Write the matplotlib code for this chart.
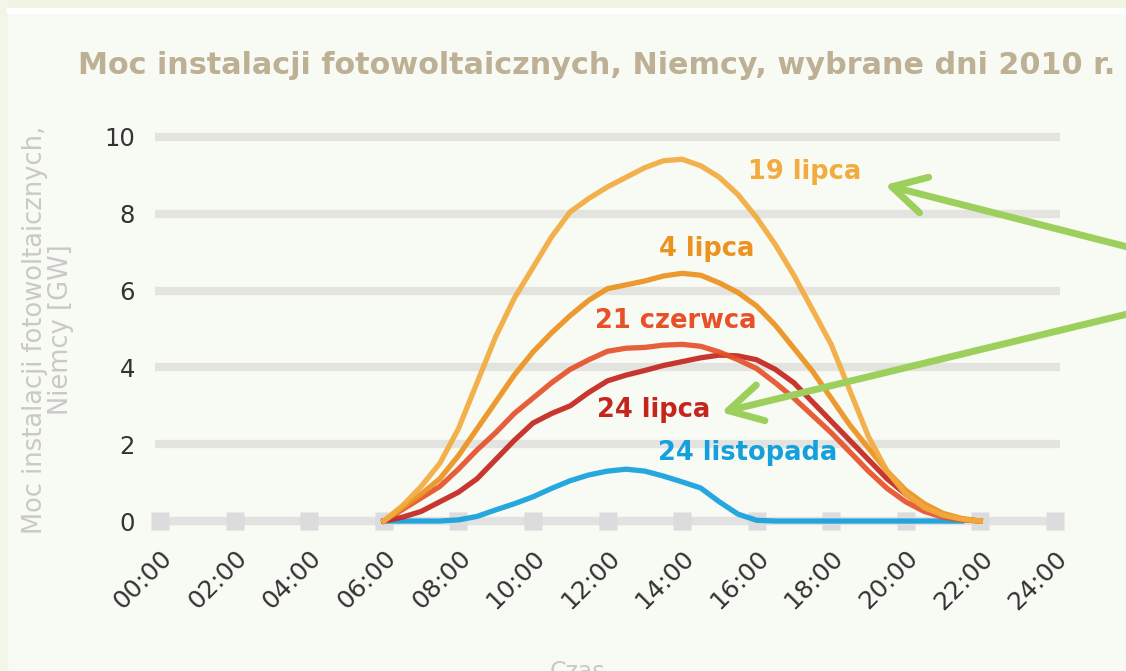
import numpy as np
import matplotlib
matplotlib.use("Agg")
from matplotlib import pyplot as plt
from matplotlib.patches import Rectangle

# data (hour of day -> GW)
h_19_lipca = [6.0, 6.5, 7.0, 7.5, 8.0, 8.5, 9.0, 9.5, 10.0, 10.5, 11.0, 11.5, 12.0, 12.5, 13.0, 13.5,
              14.0, 14.5, 15.0, 15.5, 16.0, 16.5, 17.0, 17.5, 18.0, 18.5, 19.0, 19.5, 20.0, 20.5, 21.0, 21.5, 22.0]
v_19_lipca = [0.0, 0.4, 0.9, 1.5, 2.4, 3.6, 4.8, 5.8, 6.6, 7.4, 8.05, 8.4, 8.7, 8.95, 9.2, 9.38,
              9.42, 9.25, 8.95, 8.5, 7.9, 7.2, 6.4, 5.5, 4.6, 3.4, 2.2, 1.3, 0.7, 0.35, 0.15, 0.05, 0.0]

h_4_lipca = h_19_lipca
v_4_lipca = [0.0, 0.35, 0.7, 1.1, 1.7, 2.4, 3.1, 3.8, 4.4, 4.9, 5.35, 5.75, 6.05, 6.15, 6.25, 6.38,
             6.45, 6.4, 6.2, 5.95, 5.6, 5.1, 4.5, 3.9, 3.2, 2.5, 1.9, 1.3, 0.8, 0.45, 0.2, 0.07, 0.0]

h_21_czerwca = h_19_lipca
v_21_czerwca = [0.0, 0.3, 0.6, 0.9, 1.35, 1.85, 2.3, 2.8, 3.2, 3.6, 3.95, 4.2, 4.42, 4.5, 4.52, 4.58,
                4.6, 4.55, 4.4, 4.2, 3.97, 3.6, 3.2, 2.75, 2.3, 1.8, 1.3, 0.85, 0.5, 0.25, 0.1, 0.03, 0.0]

h_24_lipca = h_19_lipca
v_24_lipca = [0.0, 0.1, 0.25, 0.5, 0.75, 1.1, 1.6, 2.1, 2.55, 2.8, 3.0, 3.35, 3.65, 3.8, 3.92, 4.05,
              4.15, 4.25, 4.32, 4.3, 4.2, 3.95, 3.6, 3.1, 2.6, 2.1, 1.6, 1.1, 0.7, 0.35, 0.15, 0.05, 0.0]

h_24_listopada = [6.0, 7.0, 7.5, 8.0, 8.5, 9.0, 9.5, 10.0, 10.5, 11.0, 11.5, 12.0, 12.5, 13.0, 13.5,
                  14.0, 14.5, 15.0, 15.5, 16.0, 16.5, 21.5]
v_24_listopada = [0.0, 0.0, 0.0, 0.03, 0.12, 0.29, 0.45, 0.63, 0.85, 1.05, 1.2, 1.3, 1.35, 1.3, 1.17,
                  1.02, 0.86, 0.5, 0.18, 0.02, 0.0, 0.0]

series_names = ["24 listopada", "24 lipca", "21 czerwca", "4 lipca", "19 lipca"]
series_colors = ["#14a0dc", "#c4261e", "#e6512a", "#ec921e", "#f2ab3e"]

x_ticks = list(range(0, 25, 2))
x_labels = ["%02d:00" % h for h in x_ticks]
y_ticks = [0, 2, 4, 6, 8, 10]

title = "Moc instalacji fotowoltaicznych, Niemcy, wybrane dni 2010 r."
y_label = "Moc instalacji fotowoltaicznych,\nNiemcy [GW]"
x_label = "Czas"

fig = plt.figure(figsize=(11.26, 6.71), dpi=100, facecolor="#f8faf4")

# pale border strips
fig.patches.append(Rectangle((0, 1 - 8 / 671), 1, 8 / 671, transform=fig.transFigure,
                             color="#f0f5e3", zorder=0))
fig.patches.append(Rectangle((0, 0), 7 / 1126, 1, transform=fig.transFigure,
                             color="#f2f6e8", zorder=0))
fig.patches.append(Rectangle((7 / 1126, 1 - 13 / 671), 1, 5 / 671, transform=fig.transFigure,
                             color="#ffffff", zorder=0))

ax = fig.add_axes([149 / 1126, 134.6 / 671, 917 / 1126, 414.8 / 671])
ax.set_facecolor("none")
ax.set_xlim(-0.3, 24.3)
ax.set_ylim(-0.4, 10.4)
for s in ax.spines.values():
    s.set_visible(False)

# grid lines and square tick marks on zero line
ax.hlines(y_ticks[1:], -0.15, 24.15, color="#e3e4e0", lw=6, zorder=1)
ax.hlines(0, -0.15, 24.15, color="#e2e2e2", lw=6, zorder=1)
ax.plot(x_ticks, [0] * len(x_ticks), ls="none", marker="s", ms=13, color="#dcdcde",
        mec="none", zorder=1)

data = {
    "24 listopada": (h_24_listopada, v_24_listopada),
    "24 lipca": (h_24_lipca, v_24_lipca),
    "21 czerwca": (h_21_czerwca, v_21_czerwca),
    "4 lipca": (h_4_lipca, v_4_lipca),
    "19 lipca": (h_19_lipca, v_19_lipca),
}
for name, col in zip(series_names, series_colors):
    hx, hy = data[name]
    ax.plot(hx, hy, color=col, lw=3.8, alpha=0.92, solid_joinstyle="round", zorder=3)

# series labels
label_pos = {
    "19 lipca": (17.29, 9.08),
    "4 lipca": (14.66, 7.08),
    "21 czerwca": (13.84, 5.2),
    "24 lipca": (13.24, 2.9),
    "24 listopada": (15.76, 1.76),
}
for name, col in zip(series_names, series_colors):
    lx, ly = label_pos[name]
    ax.text(lx, ly, name, color=col, fontsize=18.5, fontweight="bold",
            ha="center", va="center", zorder=4)

# green arrows pointing at the labels
arrow_kw = dict(arrowstyle="->,head_length=1.0,head_width=0.55", color="#9dcf5c", lw=5,
                mutation_scale=24, shrinkA=0, shrinkB=0, capstyle="round")
ax.annotate("", xy=(19.44, 8.75), xytext=(26.5, 7.0), arrowprops=arrow_kw,
            annotation_clip=False, zorder=5)
ax.annotate("", xy=(15.05, 2.83), xytext=(26.5, 5.52), arrowprops=arrow_kw,
            annotation_clip=False, zorder=5)

ax.set_xticks(x_ticks)
ax.set_xticklabels(x_labels, rotation=45, ha="right", rotation_mode="anchor",
                   fontsize=18, color="#333333")
ax.set_yticks(y_ticks)
ax.set_yticklabels([str(v) for v in y_ticks], fontsize=17.5, color="#333333")
ax.tick_params(axis="both", length=0)
ax.tick_params(axis="x", pad=7)
ax.tick_params(axis="y", pad=10)

fig.text(78 / 1126, 1 - 66 / 671, title, color="#bdb094", fontsize=21.8, fontweight="bold",
         ha="left", va="center")
fig.text(48 / 1126, 1 - 330 / 671, y_label, color="#c9c9c7", fontsize=18.5, rotation=90,
         ha="center", va="center", multialignment="center", linespacing=1.0)
fig.text(577 / 1126, -8 / 671, x_label, color="#c9c9c7", fontsize=17, ha="center",
         va="baseline")

fig.savefig("out.png", dpi=100, facecolor=fig.get_facecolor())
